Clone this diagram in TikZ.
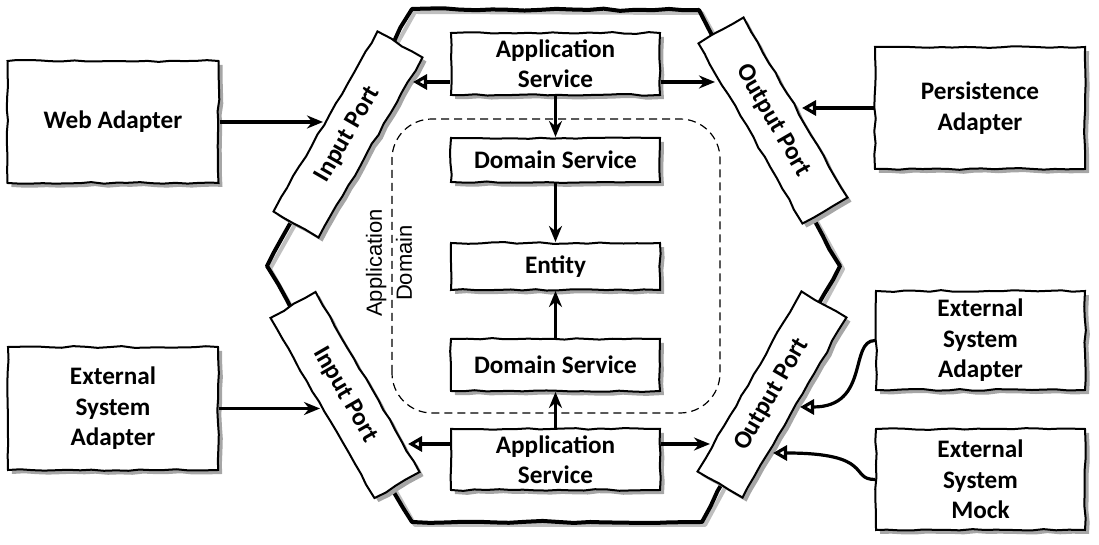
\documentclass[tikz,border=0pt]{standalone}
\usepackage{fontspec}
\setmainfont{Carlito}
\newfontfamily\labelfont{Liberation Sans}
\usetikzlibrary{shadows,calc,arrows.meta,decorations.pathmorphing}

\begin{document}
\begin{tikzpicture}[x=0.5pt,y=0.5pt,
  box/.style={draw,fill=white,line width=1pt,inner sep=0pt,align=center,
    font=\fontsize{12.6}{15.2}\selectfont\bfseries,
    decorate,decoration={random steps,segment length=6pt,amplitude=0.45pt},
    drop shadow={shadow xshift=2pt,shadow yshift=-2pt,fill=black!35,opacity=1}},
  svc/.style={box,minimum width=104.5pt},
  port/.style={box,minimum width=104pt,minimum height=26pt},
  arr/.style={line width=1.6pt,-{Stealth[length=8pt,width=6.5pt]}},
  oarr/.style={line width=1.6pt,-{Triangle[open,length=7pt,width=7.5pt,fill=white]}}]
\pgfmathsetseed{3}
\useasboundingbox (0,0) rectangle (1099,545);

% Hexagon
\draw[black!25,line width=2pt,line join=round,shift={(3,-3)}]
  (412,536) -- (699,535) -- (840,279) -- (702,23) -- (412,23) -- (267,279) -- cycle;
\draw[line width=2pt,line join=round,decorate,
  decoration={random steps,segment length=8pt,amplitude=0.6pt}]
  (412,536) -- (699,535) -- (840,279) -- (702,23) -- (412,23) -- (267,279) -- cycle;

% Application domain
\draw[dash pattern=on 4pt off 2.5pt,line width=0.6pt,rounded corners=20pt]
  (392,132) rectangle (720,426);
\node[rotate=90,align=center,font=\labelfont\fontsize{11}{15}\selectfont]
  (domlabel) at (389,282) {Application\\Domain};

% Services
\node[svc,minimum height=31pt] (app1) at (555.5,481) {Application\\Service};
\node[svc,minimum height=22pt] (dom1) at (555.5,385) {Domain Service};
\node[svc,minimum height=23.5pt] (ent) at (555.5,278.5) {Entity};
\node[svc,minimum height=26pt] (dom2) at (555.5,180) {Domain Service};
\node[svc,minimum height=30.5pt] (app2) at (555.5,85.5) {Application\\Service};

% Ports
\node[port,rotate=60] (inTop) at (348,410.5) {Input Port};
\node[port,rotate=-60] (inBot) at (345,150) {Input Port};
\node[port,rotate=-60] (outTop) at (773,424.5) {Output Port};
\node[port,rotate=60] (outBot) at (772,150.5) {Output Port};

% Adapters
\node[box,minimum width=105.5pt,minimum height=61pt] (web) at (113,423) {Web Adapter};
\node[box,minimum width=105pt,minimum height=61.5pt] (extL) at (113,136.5) {External\\System\\Adapter};
\node[box,minimum width=105pt,minimum height=61pt] (persist) at (980,437) {Persistence\\Adapter};
\node[box,minimum width=104.5pt,minimum height=49.5pt] (extR) at (980.5,204.5) {External\\System\\Adapter};
\node[box,minimum width=104.5pt,minimum height=50.5pt] (mock) at (980.5,65.5) {External\\System\\Mock};

% Arrow ends on the ports
\coordinate (inTopIn) at (323,423);
\coordinate (inBotIn) at (320,136.5);
\coordinate (inTopSvc) at (413,463);
\coordinate (inBotSvc) at (408,101);
\coordinate (outTopSvc) at (715,463);
\coordinate (outBotSvc) at (710,101);
\coordinate (outTopIn) at (802,437);
\coordinate (outBotIn) at (800,138);
\coordinate (outBotMock) at (773,92);

% Connectors
\draw[arr] (web.east) -- (inTopIn);
\draw[arr] (extL.east) -- (inBotIn);
\draw[oarr] (app1.west |- inTopSvc) -- (inTopSvc);
\draw[arr] (app1.east |- outTopSvc) -- (outTopSvc);
\draw[oarr] (app2.west |- inBotSvc) -- (inBotSvc);
\draw[arr] (app2.east |- outBotSvc) -- (outBotSvc);
\draw[oarr] (persist.west) -- (outTopIn);
\draw[oarr] (extR.west) .. controls +(-26,0) and +(70,0) .. (outBotIn);
\draw[oarr] (mock.west) .. controls +(-26,0) and +(102,0) .. (outBotMock);
\draw[arr] (app1) -- (dom1);
\draw[arr] (dom1) -- (ent);
\draw[arr] (dom2) -- (ent);
\draw[arr] (app2) -- (dom2);
\end{tikzpicture}
\end{document}
